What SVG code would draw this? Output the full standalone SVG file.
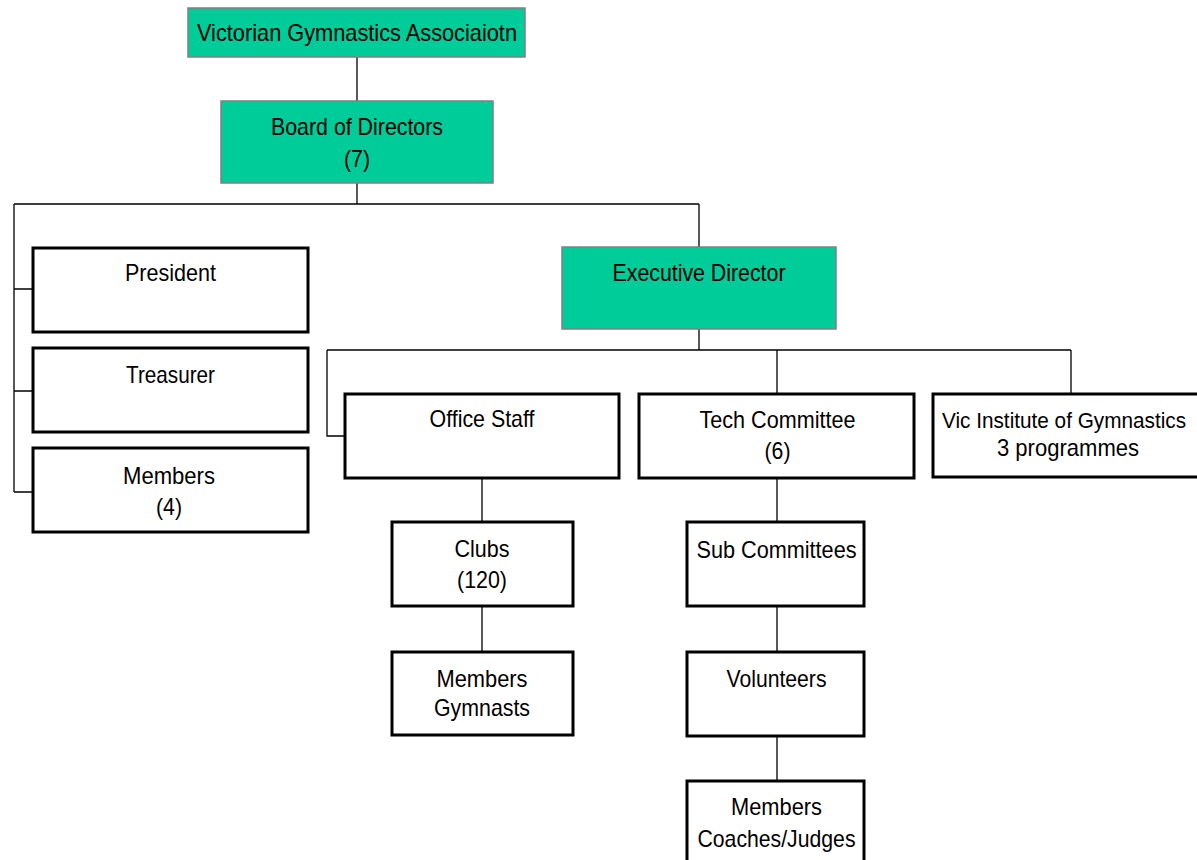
<svg xmlns="http://www.w3.org/2000/svg" width="1197" height="860" viewBox="0 0 1197 860">
<style>
.g{fill:#00CC99;stroke:#808080;stroke-width:1.5}
.w{fill:#ffffff;stroke:#000000;stroke-width:3}
text{font-family:"Liberation Sans",Arial,sans-serif;font-size:24px;fill:#000000;text-anchor:middle}
.c{stroke:#000000;stroke-width:1.3;fill:none}
</style>
<rect x="0" y="0" width="1197" height="860" fill="#ffffff"/>
<g id="connectors" class="c">
<path d="M357 57V101M357 183V204M14 204H699M14 204V492M14 289H33M14 391H33M14 492H33M699 204V247M699 329V350M327 350H1071M327 350V436H345M777 350V394M1071 350V394M482 478V522M482 606V652M777 478V522M777 606V652M777 736V781"/>
</g>
<g id="vga"><rect class="g" x="188" y="8" width="337" height="49"/><text x="357" y="41" textLength="320" lengthAdjust="spacingAndGlyphs">Victorian Gymnastics Associaiotn</text></g>
<g id="board"><rect class="g" x="221" y="101" width="272" height="82"/><text x="357" y="135" textLength="172" lengthAdjust="spacingAndGlyphs">Board of Directors</text><text x="357" y="167" textLength="26" lengthAdjust="spacingAndGlyphs">(7)</text></g>
<g id="president"><rect class="w" x="33" y="248" width="275" height="84"/><text x="170.5" y="281" textLength="91" lengthAdjust="spacingAndGlyphs">President</text></g>
<g id="treasurer"><rect class="w" x="33" y="348" width="275" height="84"/><text x="170.5" y="383" textLength="89" lengthAdjust="spacingAndGlyphs">Treasurer</text></g>
<g id="members4"><rect class="w" x="33" y="448" width="275" height="84"/><text x="169" y="484" textLength="92" lengthAdjust="spacingAndGlyphs">Members</text><text x="169" y="515" textLength="26" lengthAdjust="spacingAndGlyphs">(4)</text></g>
<g id="exec"><rect class="g" x="562" y="247" width="274" height="82"/><text x="699" y="281" textLength="173" lengthAdjust="spacingAndGlyphs">Executive Director</text></g>
<g id="office"><rect class="w" x="345" y="394" width="274" height="84"/><text x="482" y="427" textLength="105" lengthAdjust="spacingAndGlyphs">Office Staff</text></g>
<g id="tech"><rect class="w" x="639" y="394" width="275" height="84"/><text x="777.5" y="428" textLength="156" lengthAdjust="spacingAndGlyphs">Tech Committee</text><text x="777.5" y="459" textLength="26" lengthAdjust="spacingAndGlyphs">(6)</text></g>
<g id="vic"><rect class="w" x="933" y="394" width="276" height="83"/><text x="1064" y="428" style="font-size:21.5px" textLength="244" lengthAdjust="spacingAndGlyphs">Vic Institute of Gymnastics</text><text x="1068" y="456" textLength="142" lengthAdjust="spacingAndGlyphs">3 programmes</text></g>
<g id="clubs"><rect class="w" x="392" y="522" width="181" height="84"/><text x="482" y="557" textLength="55" lengthAdjust="spacingAndGlyphs">Clubs</text><text x="482" y="588" textLength="50" lengthAdjust="spacingAndGlyphs">(120)</text></g>
<g id="gymnasts"><rect class="w" x="392" y="652" width="181" height="83"/><text x="482" y="687" textLength="91" lengthAdjust="spacingAndGlyphs">Members</text><text x="482" y="716" textLength="96" lengthAdjust="spacingAndGlyphs">Gymnasts</text></g>
<g id="sub"><rect class="w" x="687" y="522" width="177" height="84"/><text x="776.5" y="558" textLength="160" lengthAdjust="spacingAndGlyphs">Sub Committees</text></g>
<g id="volunteers"><rect class="w" x="687" y="652" width="177" height="84"/><text x="776.5" y="687" textLength="100" lengthAdjust="spacingAndGlyphs">Volunteers</text></g>
<g id="coaches"><rect class="w" x="687" y="781" width="177" height="90"/><text x="776.5" y="815" textLength="91" lengthAdjust="spacingAndGlyphs">Members</text><text x="776.5" y="847" textLength="158" lengthAdjust="spacingAndGlyphs">Coaches/Judges</text></g>
</svg>
